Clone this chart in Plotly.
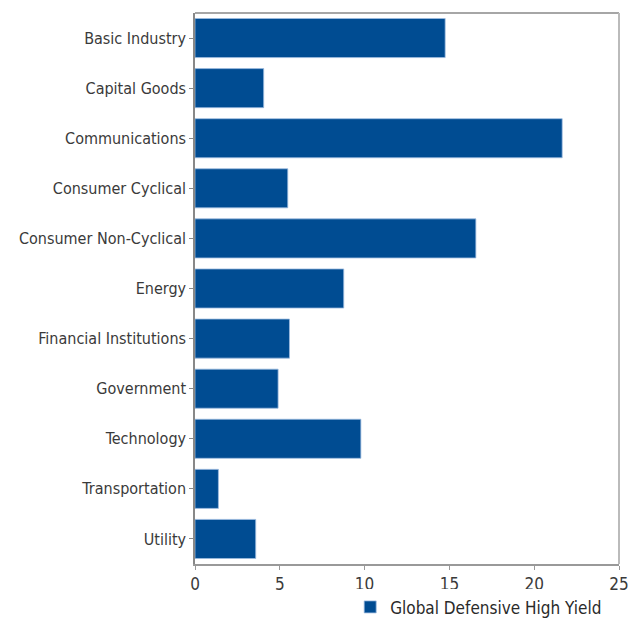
import plotly.graph_objects as go

categories = ["Basic Industry", "Capital Goods", "Communications", "Consumer Cyclical",
              "Consumer Non-Cyclical", "Energy", "Financial Institutions", "Government",
              "Technology", "Transportation", "Utility"]
values = [14.75, 4.05, 21.65, 5.47, 16.56, 8.77, 5.57, 4.9, 9.78, 1.38, 3.58]
series_name = "Global Defensive High Yield"
x_ticks = [0, 5, 10, 15, 20, 25]

FONT = "DejaVu Sans Condensed"
fig = go.Figure()
fig.add_trace(go.Bar(
    y=categories, x=values, orientation="h", name=series_name,
    marker=dict(color="#004C92", line=dict(color="#9DBBE0", width=0.8)),
    showlegend=True,
))
fig.update_layout(
    width=630, height=621,
    margin=dict(l=195, r=11, t=13, b=57, autoexpand=False),
    paper_bgcolor="white", plot_bgcolor="white",
    font=dict(family=FONT, size=16, color="#3a3a3a"),
    bargap=0.22,
    showlegend=True,
    legend=dict(orientation="h", x=0.366, xanchor="left", y=-0.046, yanchor="top",
                font=dict(size=17, color="#2a2a2a"), itemwidth=30,
                tracegroupgap=0),
    xaxis=dict(range=[0, 25], tickvals=x_ticks, showgrid=False, zeroline=False,
               showline=True, linecolor="#999999", linewidth=1.5, automargin=False,
               ticks="outside", ticklen=4, tickcolor="#999999",
               tickfont=dict(size=17)),
    yaxis=dict(autorange="reversed", showgrid=False, zeroline=False, automargin=False,
               showline=True, linecolor="#888888", linewidth=1.5,
               ticks="outside", ticklen=4, tickcolor="#888888"),
    shapes=[
        dict(type="line", xref="paper", yref="paper", x0=0, x1=1, y0=1, y1=1,
             line=dict(color="#888888", width=1.5)),
        dict(type="line", xref="paper", yref="paper", x0=1, x1=1, y0=0, y1=1,
             line=dict(color="#BBBBBB", width=2)),
    ],
)
fig.write_html("out.html", config={"displayModeBar": False},
               post_script="document.body.style.margin='0';document.body.style.padding='0';")
